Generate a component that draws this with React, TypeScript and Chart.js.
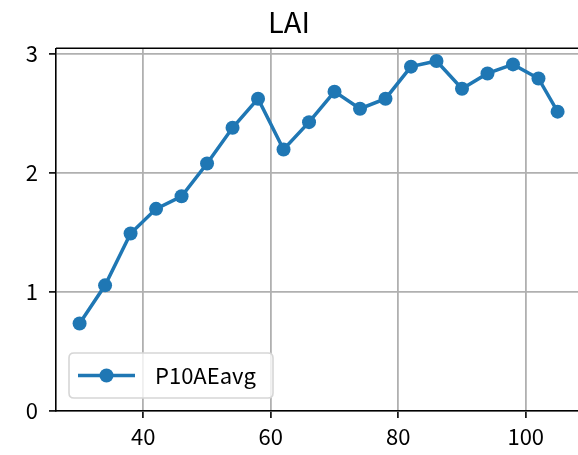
import React, { useEffect, useRef } from "react";
import { Chart, registerables } from "chart.js";

Chart.register(...registerables);

const TITLE = "LAI";
const SERIES_LABEL = "P10AEavg";
const xValues = [30, 34, 38, 42, 46, 50, 54, 58, 62, 66, 70, 74, 78, 82, 86, 90, 94, 98, 102, 105];
const yValues = [0.734, 1.055, 1.49, 1.697, 1.803, 2.078, 2.378, 2.622, 2.196, 2.425, 2.681, 2.538, 2.622, 2.891, 2.938, 2.706, 2.834, 2.91, 2.792, 2.513];
const xTicks = [40, 60, 80, 100];
const yTicks = [0, 1, 2, 3];

const FONT = "'Noto Sans CJK JP', 'Noto Sans', sans-serif";
const BLUE = "#1f77b4";

const framePlugin = {
  id: "frameAndLegend",
  afterDraw(chart: any) {
    const { ctx, chartArea } = chart;
    ctx.save();
    // top spine
    ctx.strokeStyle = "#000";
    ctx.lineWidth = 1.6;
    ctx.beginPath();
    ctx.moveTo(chartArea.left, chartArea.top);
    ctx.lineTo(chartArea.right, chartArea.top);
    ctx.stroke();

    // legend in lower-left
    const bx = 69, by = 353, bw = 204, bh = 45, r = 5;
    ctx.beginPath();
    ctx.moveTo(bx + r, by);
    ctx.lineTo(bx + bw - r, by);
    ctx.quadraticCurveTo(bx + bw, by, bx + bw, by + r);
    ctx.lineTo(bx + bw, by + bh - r);
    ctx.quadraticCurveTo(bx + bw, by + bh, bx + bw - r, by + bh);
    ctx.lineTo(bx + r, by + bh);
    ctx.quadraticCurveTo(bx, by + bh, bx, by + bh - r);
    ctx.lineTo(bx, by + r);
    ctx.quadraticCurveTo(bx, by, bx + r, by);
    ctx.closePath();
    ctx.fillStyle = "rgba(255,255,255,0.8)";
    ctx.fill();
    ctx.strokeStyle = "#d6d6d6";
    ctx.lineWidth = 1.6;
    ctx.stroke();

    const ly = by + bh / 2;
    const ds = chart.data.datasets[0];
    ctx.strokeStyle = ds.borderColor;
    ctx.lineWidth = 3.5;
    ctx.beginPath();
    ctx.moveTo(78, ly);
    ctx.lineTo(135, ly);
    ctx.stroke();
    ctx.fillStyle = ds.borderColor;
    ctx.beginPath();
    ctx.arc(106.5, ly, 7, 0, Math.PI * 2);
    ctx.fill();

    ctx.fillStyle = "#000";
    ctx.font = `22px ${FONT}`;
    ctx.textAlign = "left";
    ctx.textBaseline = "middle";
    ctx.fillText(ds.label, 155, ly);
    ctx.restore();
  },
};

export default function App() {
  const ref = useRef<HTMLCanvasElement>(null);
  useEffect(() => {
    if (!ref.current) return;
    const chart = new Chart(ref.current, {
      type: "line",
      data: {
        datasets: [
          {
            label: SERIES_LABEL,
            data: xValues.map((x, i) => ({ x, y: yValues[i] })),
            borderColor: BLUE,
            backgroundColor: BLUE,
            borderWidth: 3.5,
            pointRadius: 7,
            pointBorderWidth: 0,
            pointBackgroundColor: BLUE,
            tension: 0,
          },
        ],
      },
      options: {
        responsive: false,
        animation: false,
        layout: { padding: 0, autoPadding: false },
        plugins: {
          legend: { display: false },
          tooltip: { enabled: false },
          title: {
            display: true,
            text: TITLE,
            color: "#000",
            font: { family: FONT, size: 29, weight: "normal", lineHeight: 1.2 },
            padding: { top: 5, bottom: 8.5 },
          },
        },
        scales: {
          x: {
            type: "linear",
            min: 26.3,
            max: 108.2,
            afterBuildTicks: (s: any) => {
              s.ticks = xTicks.map((v) => ({ value: v }));
            },
            afterFit: (s: any) => {
              s.height = 44;
            },
            grid: {
              color: "#b0b0b0",
              lineWidth: 1.8,
              drawTicks: true,
              tickLength: 7,
              tickColor: "#000",
              tickWidth: 1.6,
            },
            border: { display: true, color: "#000", width: 1.6 },
            ticks: {
              color: "#000",
              font: { family: FONT, size: 22 },
              padding: 5,
              maxRotation: 0,
              autoSkip: false,
            },
          },
          y: {
            type: "linear",
            min: 0,
            max: 3.045,
            afterBuildTicks: (s: any) => {
              s.ticks = yTicks.map((v) => ({ value: v }));
            },
            afterFit: (s: any) => {
              s.width = 56;
            },
            grid: {
              color: "#b0b0b0",
              lineWidth: 1.8,
              drawTicks: true,
              tickLength: 7,
              tickColor: "#000",
              tickWidth: 1.6,
            },
            border: { display: true, color: "#000", width: 1.6 },
            ticks: {
              color: "#000",
              font: { family: FONT, size: 22 },
              padding: 11,
              autoSkip: false,
            },
          },
        },
      },
      plugins: [framePlugin],
    });
    return () => chart.destroy();
  }, []);
  return (
    <div style={{ position: "fixed", left: 0, top: 0, width: 578, height: 455, background: "#fff" }}>
      <canvas ref={ref} width={578} height={455} />
    </div>
  );
}
